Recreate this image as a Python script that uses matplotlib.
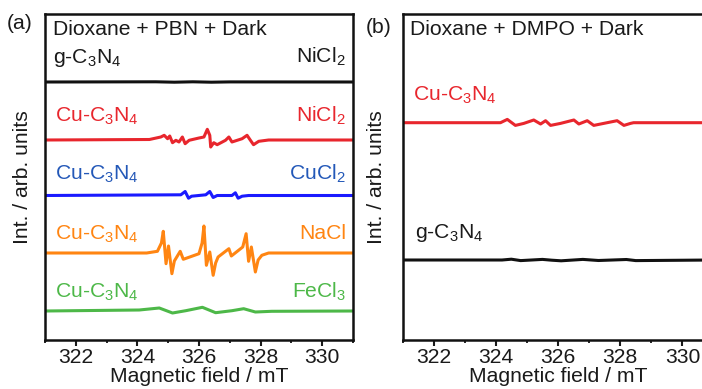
"""
EPR spectra of the spin-trap control runs in the dark: PBN (a) and DMPO (b).
"""

import matplotlib

matplotlib.use("Agg")  # headless render straight to a file
import matplotlib.pyplot as plt
from matplotlib.ticker import MultipleLocator
from matplotlib.transforms import blended_transform_factory

# ---- data (field in mT, intensity in arb. units) ----

# (a) Dioxane + PBN + Dark
a_gcn_nicl2_field = [321.0, 324.6, 325.2, 325.8, 326.4, 327.0, 331.0]
a_gcn_nicl2_int = [0.0, 0.2, -0.2, 0.2, -0.2, 0.1, 0.0]

a_cu_nicl2_field = [321.0, 324.39, 324.76, 324.87, 324.98, 325.05, 325.14, 325.25,
                    325.35, 325.46, 325.55, 325.68, 326.0, 326.16, 326.27, 326.35,
                    326.38, 326.48, 326.59, 326.86, 326.97, 327.07, 327.40, 327.56,
                    327.67, 327.77, 327.94, 328.26, 331.0]
a_cu_nicl2_int = [0.0, 0.5, 3.0, 4.7, 1.3, 4.0, -2.7, -0.3,
                  -2.0, 3.0, -3.7, -0.3, 2.0, 3.0, 10.7, 4.7,
                  -7.0, -2.7, -4.7, -0.3, 3.0, -2.0, 1.3, 4.7,
                  -0.3, -4.7, -1.3, 0.0, 0.0]

a_cu_cucl2_field = [321.0, 325.41, 325.55, 325.66, 325.76, 326.22, 326.35, 326.46,
                    326.59, 327.07, 327.18, 327.27, 327.40, 327.61, 331.0]
a_cu_cucl2_int = [0.0, 0.7, 4.0, -2.7, -0.7, 0.7, 4.0, -2.0,
                  0.0, 0.0, 2.7, -2.7, -0.7, 0.0, 0.0]

a_cu_nacl_field = [321.0, 324.3, 324.65, 324.78, 324.84, 324.93, 325.01, 325.12,
                   325.20, 325.39, 325.49, 326.0, 326.10, 326.16, 326.24, 326.35,
                   326.46, 326.54, 326.62, 326.97, 327.05, 327.42, 327.53, 327.61,
                   327.70, 327.83, 327.92, 328.04, 328.26, 331.0]
a_cu_nacl_int = [0.0, 0.0, 1.7, 10.0, 21.7, -10.7, 7.0, -20.7,
                 -8.0, 1.7, -6.3, -0.7, 10.0, 27.0, -12.3, 1.0,
                 -22.3, -10.0, -4.0, 4.3, -3.0, 6.0, 19.3, -8.3,
                 6.0, -19.0, -7.0, -2.3, 0.0, 0.0]

a_cu_fecl3_field = [321.0, 324.06, 324.71, 325.14, 325.57, 326.11, 326.54, 327.07,
                    327.45, 327.83, 328.36, 331.0]
a_cu_fecl3_int = [0.0, 1.0, 3.0, -2.0, 0.3, 3.7, -1.7, 0.3,
                  2.3, -1.0, -0.3, 0.0]

# (b) Dioxane + DMPO + Dark
b_cu_field = [321.0, 324.15, 324.37, 324.63, 324.90, 325.22, 325.44, 325.60,
              325.76, 326.08, 326.51, 326.67, 326.94, 327.15, 327.58, 327.90,
              328.12, 328.33, 328.43, 331.0]
b_cu_int = [0.0, 0.0, 3.3, -2.7, -0.7, 2.7, -1.3, 2.0,
            -2.7, -0.7, 2.7, -1.3, 2.0, -2.7, 0.0, 2.0,
            -2.7, -0.7, 0.0, 0.0]

b_gcn_field = [321.0, 324.2, 324.5, 324.8, 325.5, 325.8, 326.1, 326.8, 327.3, 328.2, 328.5, 331.0]
b_gcn_int = [0.0, 0.0, 0.8, -0.6, 0.6, -0.2, -0.8, 0.6, -0.5, 0.5, -0.6, 0.0]

# ---- styling ----
plt.rcParams["font.family"] = ["Liberation Sans", "DejaVu Sans"]
plt.rcParams["mathtext.fontset"] = "custom"
plt.rcParams["mathtext.rm"] = "Liberation Sans"
plt.rcParams["mathtext.it"] = "Liberation Sans:italic"
plt.rcParams["mathtext.bf"] = "Liberation Sans:bold"
FS = 15.2
plt.rcParams["font.size"] = FS

TEXT = "#1a1a1a"
RED = "#e8262d"
BLUE_LINE = "#1a1aff"
BLUE_TEXT = "#2358b8"
ORANGE = "#ff8512"
GREEN = "#4db848"
GCN = "g-C$_3$N$_4$"
CUCN = "Cu-C$_3$N$_4$"

W, H = 702, 389
fig = plt.figure(figsize=(W / 100, H / 100), dpi=100)

# axes boxes in pixels (left, bottom-edge y from top, width, height)
ax_a = fig.add_axes([45 / W, (H - 340) / H, 308 / W, 326 / H])
ax_b = fig.add_axes([402.5 / W, (H - 340) / H, 311 / W, 326 / H])


def setup(ax):
    ax.set_xlim(321, 331)
    ax.set_ylim(0, 326)  # one y unit per pixel, counted up from the bottom spine
    ax.set_xticks(range(322, 331, 2))
    ax.xaxis.set_minor_locator(MultipleLocator(1))
    ax.set_yticks([])
    ax.tick_params(axis="x", which="major", direction="out", length=4, width=1.5,
                   pad=2, labelsize=FS, colors=TEXT)
    ax.tick_params(axis="x", which="minor", direction="out", length=2.5, width=1.2)
    for s in ax.spines.values():
        s.set_linewidth(1.8)
        s.set_color("#111111")
    ax.set_xlabel("Magnetic field / mT", fontsize=FS, color=TEXT, labelpad=0)
    ax.set_ylabel("Int. / arb. units", fontsize=FS, color=TEXT)


setup(ax_a)
setup(ax_b)
ax_a.yaxis.set_label_coords(-0.042, 0.5)
ax_b.yaxis.set_label_coords(-0.053, 0.5)

# spectra, stacked by a vertical offset
for fld, inten, off, col in [
    (a_gcn_nicl2_field, a_gcn_nicl2_int, 258, "#111111"),
    (a_cu_nicl2_field, a_cu_nicl2_int, 200, RED),
    (a_cu_cucl2_field, a_cu_cucl2_int, 144.5, BLUE_LINE),
    (a_cu_nacl_field, a_cu_nacl_int, 87, ORANGE),
    (a_cu_fecl3_field, a_cu_fecl3_int, 29, GREEN),
]:
    ax_a.plot(fld, [v + off for v in inten], color=col, lw=2.2, solid_joinstyle="round")

for fld, inten, off, col in [
    (b_cu_field, b_cu_int, 217.3, RED),
    (b_gcn_field, b_gcn_int, 80, "#111111"),
]:
    ax_b.plot(fld, [v + off for v in inten], color=col, lw=2.2, solid_joinstyle="round")

# labels: x in axes fraction, y in the pixel-like data units
ta = blended_transform_factory(ax_a.transAxes, ax_a.transData)
tb = blended_transform_factory(ax_b.transAxes, ax_b.transData)
left_a, right_a = 0.026, 0.977

ax_a.text(left_a, 305, "Dioxane + PBN + Dark", transform=ta, color=TEXT, va="baseline")
ax_a.text(left_a, 277, GCN, transform=ta, color=TEXT, va="baseline")
ax_a.text(right_a, 277, "NiCl$_2$", transform=ta, color=TEXT, va="baseline", ha="right")
for y, col, salt in [(218.3, RED, "NiCl$_2$"), (160.7, BLUE_TEXT, "CuCl$_2$"),
                     (100.7, ORANGE, "NaCl"), (42.7, GREEN, "FeCl$_3$")]:
    ax_a.text(left_a + 0.006, y, CUCN, transform=ta, color=col, va="baseline")
    ax_a.text(right_a, y, salt, transform=ta, color=col, va="baseline", ha="right")

ax_b.text(0.024, 305, "Dioxane + DMPO + Dark", transform=tb, color=TEXT, va="baseline")
ax_b.text(0.034, 239, CUCN, transform=tb, color=RED, va="baseline")
ax_b.text(0.040, 101.7, GCN, transform=tb, color=TEXT, va="baseline")

fig.text(7 / W, 1 - 29 / H, "(a)", fontsize=FS, color=TEXT, va="baseline")
fig.text(366 / W, 1 - 33 / H, "(b)", fontsize=FS, color=TEXT, va="baseline")

fig.savefig("out.png", dpi=100)
